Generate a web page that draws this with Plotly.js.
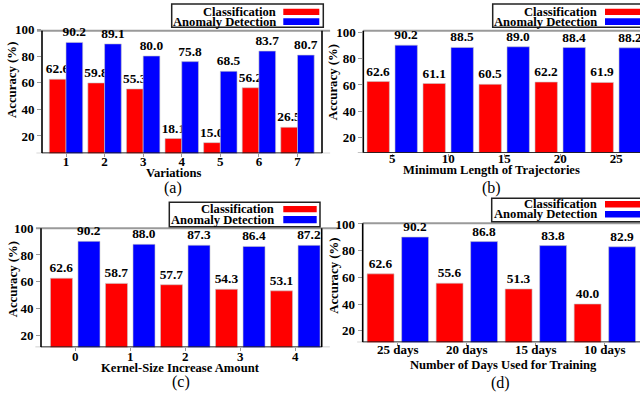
<!DOCTYPE html>
<html>
<head>
<meta charset="utf-8">
<script src="https://cdn.plot.ly/plotly-3.0.1.min.js"></script>
<style>html,body{margin:0;padding:0;background:#fff;}#chart{width:640px;height:394px;}</style>
</head>
<body>
<div id="chart"></div>
<script>
// ---- data ----
const seriesNames = ['Classification', 'Anomaly Detection'];
const seriesColors = ['#ff0000', '#0000ff'];
const yTicks = [20, 40, 60, 80, 100];

const categoriesA = ['1', '2', '3', '4', '5', '6', '7'];
const classA = [62.6, 59.8, 55.3, 18.1, 15.0, 56.2, 26.5];
const anomA = [90.2, 89.1, 80.0, 75.8, 68.5, 83.7, 80.7];

const categoriesB = ['5', '10', '15', '20', '25'];
const classB = [62.6, 61.1, 60.5, 62.2, 61.9];
const anomB = [90.2, 88.5, 89.0, 88.4, 88.2];

const categoriesC = ['0', '1', '2', '3', '4'];
const classC = [62.6, 58.7, 57.7, 54.3, 53.1];
const anomC = [90.2, 88.0, 87.3, 86.4, 87.2];

const categoriesD = ['25 days', '20 days', '15 days', '10 days'];
const classD = [62.6, 55.6, 51.3, 40.0];
const anomD = [90.2, 86.8, 83.8, 82.9];

const xTitles = ['Variations', 'Minimum Length of Trajectories', 'Kernel-Size Increase Amount', 'Number of Days Used for Training'];
const captions = ['(a)', '(b)', '(c)', '(d)'];
const yTitle = 'Accuracy (%)';

// ---- layout helpers ----
const W = 640, H = 394;
const FONT = 'Liberation Serif, Times New Roman, Times, serif';
const px = x => x / W;
const py = y => 1 - y / H;

const panels = [
  {cats: categoriesA, cls: classA, anom: anomA, xd: [42, 322], yd: [16.7, 153.3], yr: [7.0, 109.5], fTop: 99.0,
   xr: [-0.622, 6.635], w: 0.433, off: [-0.433, 0], right: true, topExt: [-0.018, 1.029], tso: -7,
   xt: [174.2, 173.3], cap: [173.3, 188], yt: [12, 80],
   leg: {box: [171.7, 4, 323.3, 27.3], tr: 278.3, sw: [283.3, 319.3], rows: [[8.7, 15.0], [18.3, 25.0]]}},
  {cats: categoriesB, cls: classB, anom: anomB, xd: [363.3, 640], yd: [16.7, 152.7], yr: [8.6, 111.8], fTop: 101.2,
   xr: [-0.516, 4.425], w: 0.4, off: [-0.45, 0.05], right: false, topExt: [0, 1.05], tso: -9,
   xt: [491.3, 170], cap: [491.7, 188], yt: [333.3, 82],
   leg: {box: [492.7, 4, 646, 27.3], tr: 599.3, sw: [605, 641], rows: [[8.7, 15.0], [18.3, 25.0]]}},
  {cats: categoriesC, cls: classC, anom: anomC, xd: [41, 321.7], yd: [214.3, 347.2], yr: [10.85, 110.5], fTop: 100.0,
   xr: [-0.622, 4.48], w: 0.4, off: [-0.45, 0.05], right: true, topExt: [-0.018, 1.06], tso: -6,
   xt: [180.5, 368.3], cap: [180.8, 381.7], yt: [13.3, 279],
   leg: {box: [169.3, 202.3, 320, 226.7], tr: 276, sw: [283.3, 316.7], rows: [[206, 212.3], [216, 223.3]]}},
  {cats: categoriesD, cls: classD, anom: anomD, xd: [362.7, 640], yd: [209.3, 342.3], yr: [11.3, 111.0], fTop: 100.5,
   xr: [-0.509, 3.509], w: 0.39, off: [-0.445, 0.055], right: false, topExt: [0, 1.05], tso: -8,
   xt: [503.7, 365], cap: [500, 383], yt: [333.3, 275.5],
   leg: {box: [491.7, 198.3, 646, 221.7], tr: 599.3, sw: [605, 641], rows: [[201.0, 207.5], [211.0, 217.5]]}}
];

const traces = [];
const shapes = [];
const annotations = [];
const layout = {
  width: W, height: H,
  margin: {l: 0, r: 0, t: 0, b: 0},
  paper_bgcolor: '#ffffff', plot_bgcolor: 'rgba(0,0,0,0)',
  showlegend: false, barmode: 'group',
  font: {family: FONT, color: '#000'}
};

const boldFont = (size) => ({family: FONT, size: size, color: '#000', weight: 'bold'});

panels.forEach((p, i) => {
  const s = i === 0 ? '' : String(i + 1);
  const xa = 'x' + s, ya = 'y' + s;
  layout['xaxis' + s] = {
    domain: [px(p.xd[0]), px(p.xd[1])], anchor: ya, type: 'category', range: p.xr,
    ticks: 'outside', ticklen: 3, tickcolor: '#999', tickwidth: 1, ticklabelstandoff: p.tso,
    showgrid: false, zeroline: false, showline: false,
    tickfont: boldFont(13), fixedrange: true
  };
  layout['yaxis' + s] = {
    domain: [py(p.yd[1]), py(p.yd[0])], anchor: xa, range: p.yr,
    tickvals: yTicks, ticktext: yTicks.map(String),
    ticks: 'outside', ticklen: 4, tickcolor: '#999', tickwidth: 1,
    showgrid: false, zeroline: false, showline: false,
    tickfont: boldFont(13), fixedrange: true
  };
  [p.cls, p.anom].forEach((vals, k) => {
    traces.push({
      type: 'bar', name: seriesNames[k], x: p.cats, y: vals, xaxis: xa, yaxis: ya,
      width: p.w, offset: p.off[k],
      marker: {color: seriesColors[k], line: {color: '#c8c8c8', width: 0.6}},
      text: vals.map(v => v.toFixed(1)), textposition: 'outside', constraintext: 'none',
      textfont: boldFont(13.4), cliponaxis: true, hoverinfo: 'skip'
    });
  });
  // frame
  const xr = xa + ' domain';
  const bot = p.yr[0];
  shapes.push({type: 'line', layer: 'below', xref: xr, yref: ya, x0: p.topExt[0], x1: p.topExt[1], y0: p.fTop, y1: p.fTop, line: {color: '#9a9a9a', width: 2}});
  shapes.push({type: 'line', xref: xr, yref: ya, x0: -0.02, x1: p.right ? 1.029 : 1.05, y0: bot, y1: bot, line: {color: '#9a9a9a', width: 1}});
  shapes.push({type: 'line', xref: xr, yref: ya, x0: 0, x1: 1, y0: bot, y1: bot, line: {color: '#000', width: 1.6}});
  shapes.push({type: 'line', xref: xr, yref: ya, x0: 0, x1: 0, y0: bot, y1: p.fTop, line: {color: '#000', width: 1.6}});
  if (p.right) {
    shapes.push({type: 'line', xref: xr, yref: ya, x0: 1, x1: 1, y0: bot, y1: p.fTop, line: {color: '#000', width: 1.6}});
  }
  // legend
  const L = p.leg;
  shapes.push({type: 'rect', xref: 'paper', yref: 'paper', x0: px(L.box[0]), x1: px(L.box[2]), y0: py(L.box[3]), y1: py(L.box[1]),
               line: {color: '#222', width: 1.5}, fillcolor: 'rgba(255,255,255,0)'});
  L.rows.forEach((r, k) => {
    shapes.push({type: 'rect', xref: 'paper', yref: 'paper', x0: px(L.sw[0]), x1: px(L.sw[1]), y0: py(r[1]), y1: py(r[0]),
                 line: {width: 0}, fillcolor: seriesColors[k]});
    annotations.push({xref: 'paper', yref: 'paper', x: px(L.tr), y: py((r[0] + r[1]) / 2), xanchor: 'right', yanchor: 'middle',
                      text: seriesNames[k], showarrow: false, font: boldFont(12.6)});
  });
  // titles
  annotations.push({xref: 'paper', yref: 'paper', x: px(p.xt[0]), y: py(p.xt[1]), xanchor: 'center', yanchor: 'middle',
                    text: xTitles[i], showarrow: false, font: boldFont(12.6)});
  annotations.push({xref: 'paper', yref: 'paper', x: px(p.cap[0]), y: py(p.cap[1]), xanchor: 'center', yanchor: 'middle',
                    text: captions[i], showarrow: false, font: {family: FONT, size: 16, color: '#000'}});
  annotations.push({xref: 'paper', yref: 'paper', x: px(p.yt[0]), y: py(p.yt[1]), xanchor: 'center', yanchor: 'middle',
                    text: yTitle, textangle: -90, showarrow: false, font: boldFont(12.8)});
});

layout.shapes = shapes;
layout.annotations = annotations;
Plotly.newPlot('chart', traces, layout, {staticPlot: true, displayModeBar: false});
</script>
</body>
</html>
